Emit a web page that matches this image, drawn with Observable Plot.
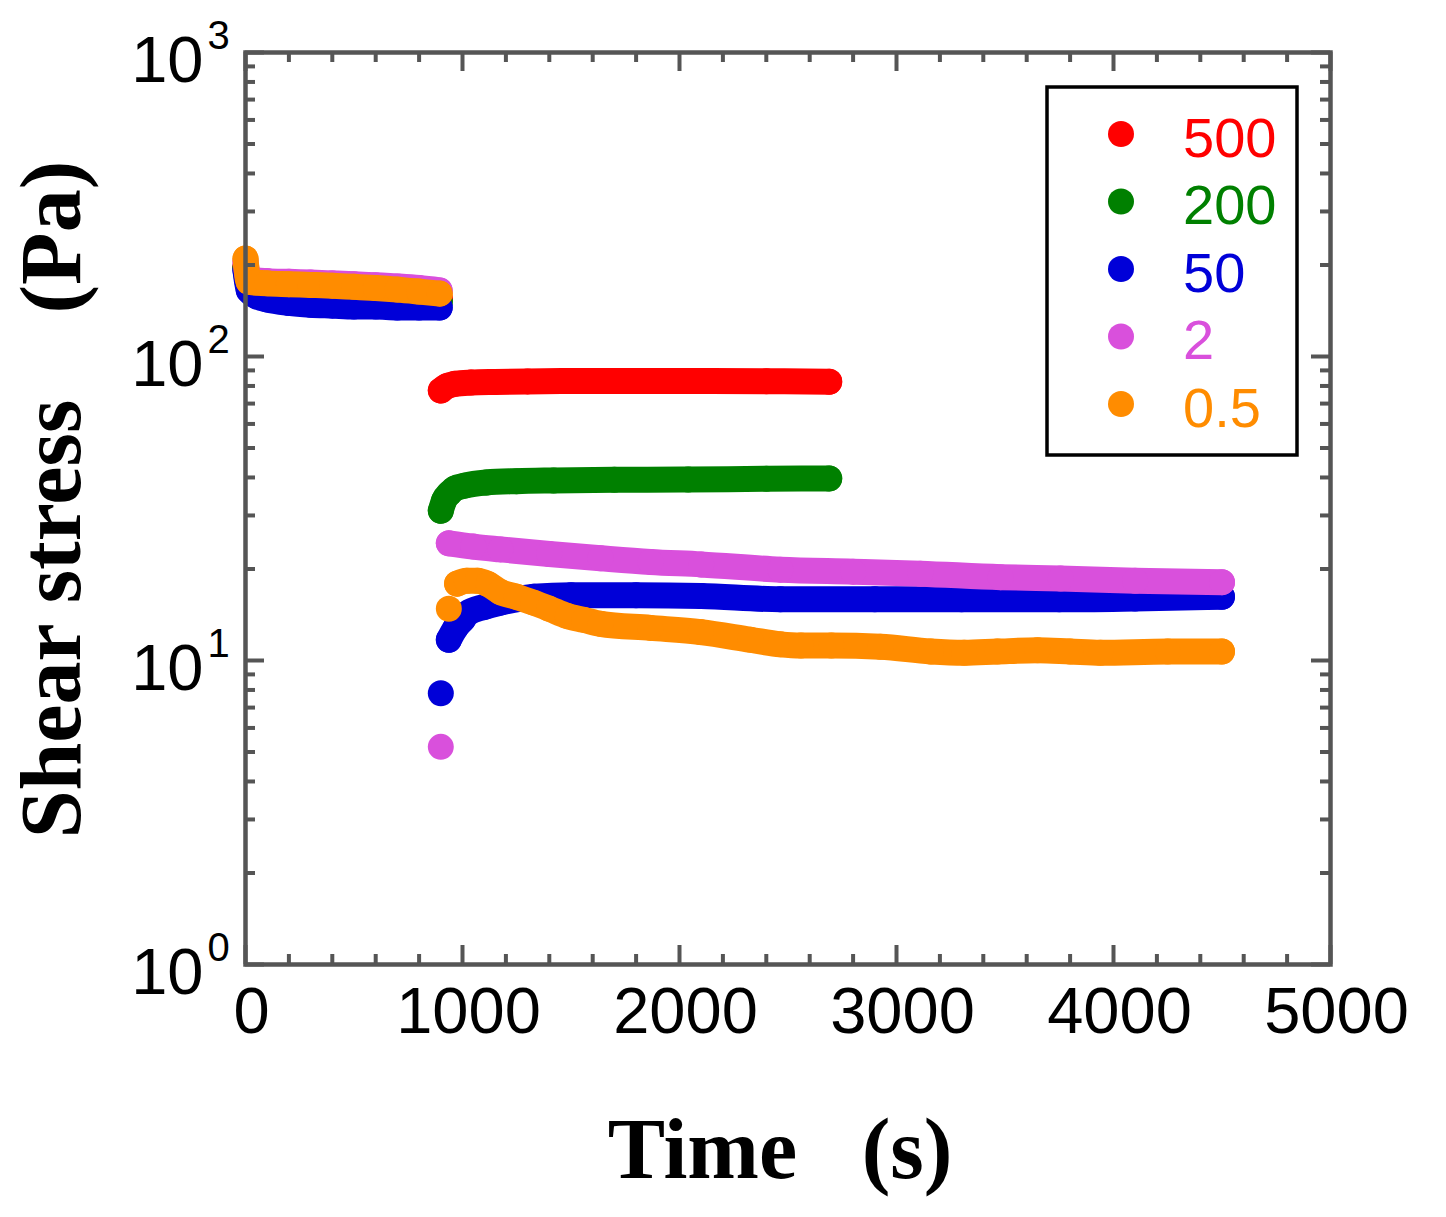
<!DOCTYPE html>
<html>
<head>
<meta charset="utf-8">
<script src="https://cdn.jsdelivr.net/npm/d3@7"></script>
<script src="https://cdn.jsdelivr.net/npm/@observablehq/plot@0.6"></script>
<style>
  body { margin: 0; background: #fff; overflow: hidden; }
  #chart { position: relative; width: 1446px; height: 1217px; }
  #legend { position: absolute; left: 1045px; top: 85px; }
</style>
</head>
<body>
<div id="chart"></div>
<script>
// series (legend order) and colours
const series = ["500", "200", "50", "2", "0.5"];
const colors = ["#ff0000", "#008000", "#0000d8", "#d950dc", "#ff8c00"];

// pre-shear step, shared time axis (s), stress (Pa)
const preT = [0, 15, 50, 100, 200, 300, 400, 500, 600, 700, 800, 895];
const pre500 = [198, 174, 168, 166, 163, 161, 160, 159, 158, 157, 156, 155];
const pre200 = [196, 170, 164, 162, 159, 157, 156, 155, 154, 153, 152, 151];
const pre50 = [192, 165, 158, 154, 150, 148, 147, 146, 146, 145, 145, 145];
const pre2 = [205, 180, 178, 177, 176, 175, 174, 173, 171.5, 170, 168, 165];
const pre05 = [210, 176, 175, 174, 173, 172, 171, 169.5, 168, 166, 163.5, 161];

// isolated first points of the test step
const lead50T = [900], lead50 = [7.8];
const lead2T = [900], lead2 = [5.2];
const lead05T = [937], lead05 = [14.8];

// test step
const t500 = [900, 930, 965, 1040, 1150, 1300, 1500, 1800, 2100, 2400, 2690];
const v500 = [77.3, 80.0, 81.3, 82.1, 82.5, 82.8, 83.0, 83.0, 83.0, 82.9, 82.6];
const t200 = [900, 915, 940, 965, 1010, 1110, 1250, 1420, 1700, 2040, 2400, 2690];
const v200 = [31.1, 33.6, 35.5, 36.8, 37.6, 38.5, 38.9, 39.1, 39.3, 39.4, 39.6, 39.7];
const t50 = [937, 968, 1000, 1023, 1100, 1175, 1330, 1500, 1800, 2100, 2465, 2900, 3300, 3750, 4100, 4500];
const v50 = [11.7, 12.8, 13.6, 14.3, 15.0, 15.5, 16.2, 16.4, 16.4, 16.3, 15.9, 15.9, 15.9, 15.9, 16.0, 16.2];
const t2 = [937, 1050, 1175, 1400, 1636, 1866, 2100, 2465, 2800, 3110, 3480, 3756, 4100, 4500];
const v2 = [24.3, 23.7, 23.2, 22.4, 21.7, 21.1, 20.7, 19.9, 19.6, 19.3, 18.8, 18.6, 18.3, 18.1];
const t05 = [975, 1020, 1069, 1120, 1175, 1250, 1327, 1400, 1484, 1560, 1636, 1866, 2097, 2327, 2465, 2560, 2700, 2926, 3158, 3312, 3465, 3650, 3800, 3940, 4250, 4500];
const v05 = [17.9, 18.3, 18.3, 17.8, 16.8, 16.2, 15.5, 14.8, 14.0, 13.6, 13.2, 12.8, 12.4, 11.7, 11.3, 11.2, 11.2, 11.1, 10.7, 10.6, 10.7, 10.8, 10.7, 10.6, 10.7, 10.7];

// ticks
const xMajor = [0, 1000, 2000, 3000, 4000, 5000];
const xMinor = d3.range(200, 5000, 200).filter(d => d % 1000 !== 0);
const yMajor = [1, 10, 100, 1000];
const yExp = ["0", "1", "2", "3"];
const yMinor = [1, 10, 100].flatMap(k => d3.range(2, 10).map(m => m * k));

const rows = (t, v) => t.map((x, i) => ({t: x, v: v[i]}));
const pre = [pre500, pre200, pre50, pre2, pre05];
const lead = [[[], []], [[], []], [lead50T, lead50], [lead2T, lead2], [lead05T, lead05]];
const test = [[t500, v500], [t200, v200], [t50, v50], [t2, v2], [t05, v05]];

const W = 1446, H = 1217;
const mL = 245, mR = 116, mT = 52, mB = 253;
const fw = W - mL - mR, fh = H - mT - mB;
const axisCol = "#555";
const numFont = "Liberation Sans, Arial, sans-serif";
const titleFont = "Liberation Serif, Times New Roman, serif";
const R = 13;

const marks = [];
series.forEach((s, i) => {
  const c = colors[i];
  for (const seg of [rows(preT, pre[i]), rows(test[i][0], test[i][1])]) {
    marks.push(Plot.line(seg, {x: "t", y: "v", stroke: c, strokeWidth: 2 * R, strokeLinecap: "round", strokeLinejoin: "round", curve: "monotone-x"}));
    marks.push(Plot.dot(seg, {x: "t", y: "v", r: R, fill: c}));
  }
  marks.push(Plot.dot(rows(lead[i][0], lead[i][1]), {x: "t", y: "v", r: R, fill: c}));
});

const tick = {stroke: axisCol, strokeWidth: 4};
const txt = {fontFamily: numFont, fill: "#000"};
marks.push(
  Plot.ruleX(xMajor, {x: d => d, ...tick, insetTop: fh - 19}),
  Plot.ruleX(xMajor, {x: d => d, ...tick, insetBottom: fh - 19}),
  Plot.ruleX(xMinor, {x: d => d, ...tick, insetTop: fh - 10}),
  Plot.ruleX(xMinor, {x: d => d, ...tick, insetBottom: fh - 10}),
  Plot.ruleY(yMajor, {y: d => d, ...tick, insetRight: fw - 19}),
  Plot.ruleY(yMajor, {y: d => d, ...tick, insetLeft: fw - 19}),
  Plot.ruleY(yMinor, {y: d => d, ...tick, insetRight: fw - 10}),
  Plot.ruleY(yMinor, {y: d => d, ...tick, insetLeft: fw - 10}),
  Plot.frame({stroke: axisCol, strokeWidth: 4.5}),
  Plot.text(xMajor, {x: d => d, text: d => String(d), frameAnchor: "bottom", lineAnchor: "middle", textAnchor: "middle", dy: 48, dx: 6, fontSize: 65, ...txt}),
  Plot.text(yMajor, {y: d => d, text: () => "10", frameAnchor: "left", lineAnchor: "middle", textAnchor: "end", dx: -42, dy: 9, fontSize: 65, ...txt}),
  Plot.text(yMajor, {y: d => d, text: (d, i) => yExp[i], frameAnchor: "left", lineAnchor: "middle", textAnchor: "start", dx: -38, dy: -16, fontSize: 40, ...txt}),
  Plot.text(["Time\u00a0\u00a0\u00a0(s)"], {text: d => d, frameAnchor: "bottom", lineAnchor: "middle", textAnchor: "middle", dy: 186, dx: -8, fontSize: 86, fontWeight: "bold", fontFamily: titleFont, fill: "#000"}),
  Plot.text(["Shear stress\u00a0\u00a0\u00a0\u00a0(Pa)"], {text: d => d, frameAnchor: "left", lineAnchor: "middle", textAnchor: "middle", rotate: -90, dx: -193, dy: -9, fontSize: 86, fontWeight: "bold", fontFamily: titleFont, fill: "#000"})
);

const chart = Plot.plot({
  width: W,
  height: H,
  marginLeft: mL,
  marginRight: mR,
  marginTop: mT,
  marginBottom: mB,
  x: {domain: [0, 5000], axis: null},
  y: {type: "log", domain: [1, 1000], axis: null},
  marks
});
d3.select("#chart").append(() => chart);

// legend box
const lg = d3.select("#chart").append("svg").attr("id", "legend").attr("width", 255).attr("height", 372);
lg.append("rect").attr("x", 2).attr("y", 2).attr("width", 250).attr("height", 368)
  .attr("fill", "#fff").attr("stroke", "#000").attr("stroke-width", 3.5);
series.forEach((s, i) => {
  const cy = 49 + i * 67.5;
  lg.append("circle").attr("cx", 76).attr("cy", cy).attr("r", R).attr("fill", colors[i]);
  lg.append("text").attr("x", 138).attr("y", cy + 3).attr("dominant-baseline", "central")
    .attr("font-family", numFont).attr("font-size", 56).attr("fill", colors[i]).text(s);
});
</script>
</body>
</html>
